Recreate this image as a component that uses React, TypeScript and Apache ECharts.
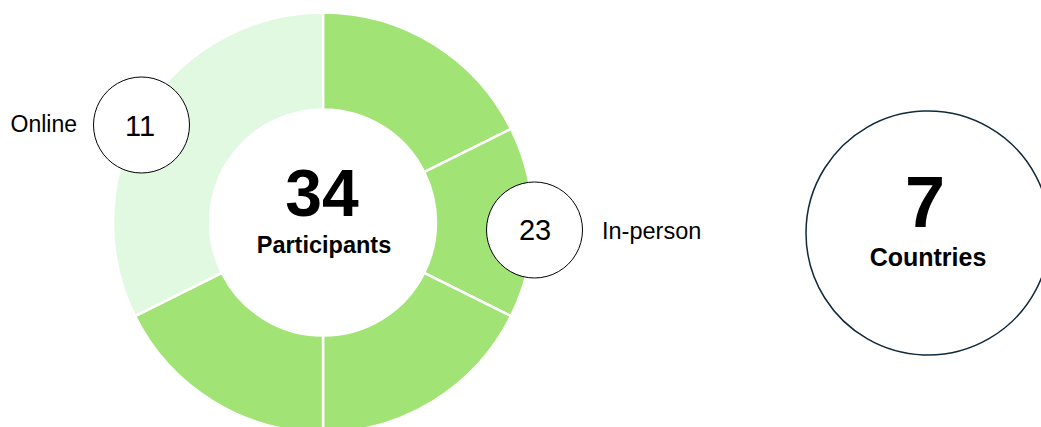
import React, { useEffect, useRef } from "react";
import * as echarts from "echarts";

const inPersonNames = ["In-person A", "In-person B", "In-person C", "In-person D"];
const inPersonValues = [6, 5, 6, 6];
const onlineValue = 11;
const countriesCount = 7;
const centerLabel = "Participants";
const countriesLabel = "Countries";
const onlineLabel = "Online";
const inPersonLabel = "In-person";

const DARK = "#A1E374";
const LIGHT = "#E1F8E1";
const FONT = "'Liberation Sans', Arial, Helvetica, sans-serif";

export default function App() {
  const ref = useRef<HTMLDivElement>(null);
  useEffect(() => {
    if (!ref.current) return;
    const chart = echarts.init(ref.current, null, { renderer: "svg" });
    const inPersonTotal = inPersonValues.reduce((a, b) => a + b, 0);
    const total = inPersonTotal + onlineValue;
    const data = [
      ...inPersonValues.map((v, i) => ({ name: inPersonNames[i], value: v, itemStyle: { color: DARK } })),
      { name: onlineLabel, value: onlineValue, itemStyle: { color: LIGHT } },
    ];
    const Z = 100;
    chart.setOption({
      animation: false,
      backgroundColor: "#ffffff",
      series: [
        {
          type: "pie",
          z: 1,
          center: [323, 222.5],
          radius: [113, 210],
          startAngle: 90,
          clockwise: true,
          label: { show: false },
          labelLine: { show: false },
          emphasis: { disabled: true },
          itemStyle: { borderColor: "#ffffff", borderWidth: 2.5 },
          data,
        },
      ],
      graphic: [
        {
          type: "text",
          z: Z,
          x: 322,
          y: 192.5,
          style: { text: String(total), font: `bold 66px ${FONT}`, fill: "#000", align: "center", verticalAlign: "middle" },
        },
        {
          type: "text",
          z: Z,
          x: 324,
          y: 245,
          style: { text: centerLabel, font: `bold 23.5px ${FONT}`, fill: "#000", align: "center", verticalAlign: "middle" },
        },
        {
          type: "circle",
          z: Z,
          shape: { cx: 141.5, cy: 125, r: 48 },
          style: { fill: "#fff", stroke: "#000", lineWidth: 1 },
        },
        {
          type: "text",
          z: Z + 1,
          x: 140,
          y: 126,
          style: { text: String(onlineValue), font: `29px ${FONT}`, fill: "#000", align: "center", verticalAlign: "middle" },
        },
        {
          type: "text",
          z: Z,
          x: 77,
          y: 124,
          style: { text: onlineLabel, font: `23px ${FONT}`, fill: "#000", align: "right", verticalAlign: "middle" },
        },
        {
          type: "circle",
          z: Z,
          shape: { cx: 534.5, cy: 230, r: 48 },
          style: { fill: "#fff", stroke: "#000", lineWidth: 1 },
        },
        {
          type: "text",
          z: Z + 1,
          x: 535,
          y: 229.5,
          style: { text: String(inPersonTotal), font: `29px ${FONT}`, fill: "#000", align: "center", verticalAlign: "middle" },
        },
        {
          type: "text",
          z: Z,
          x: 602,
          y: 231,
          style: { text: inPersonLabel, font: `23.5px ${FONT}`, fill: "#000", align: "left", verticalAlign: "middle" },
        },
        {
          type: "circle",
          z: Z,
          shape: { cx: 928, cy: 233, r: 122 },
          style: { fill: "#fff", stroke: "#10293B", lineWidth: 1.5 },
        },
        {
          type: "text",
          z: Z + 1,
          x: 925,
          y: 202,
          style: { text: String(countriesCount), font: `bold 72px ${FONT}`, fill: "#000", align: "center", verticalAlign: "middle" },
        },
        {
          type: "text",
          z: Z + 1,
          x: 928,
          y: 257,
          style: { text: countriesLabel, font: `bold 25px ${FONT}`, fill: "#000", align: "center", verticalAlign: "middle" },
        },
      ],
    });
    return () => chart.dispose();
  }, []);
  return <div ref={ref} style={{ position: "fixed", left: 0, top: 0, width: 1041, height: 427 }} />;
}
